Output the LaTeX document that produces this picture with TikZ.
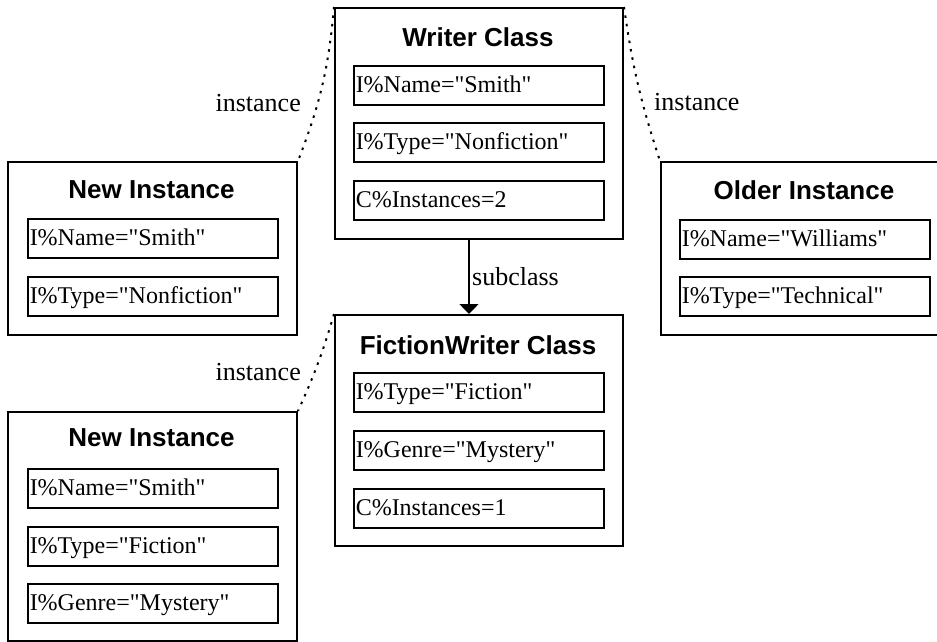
\documentclass[tikz,border=0pt]{standalone}
\usepackage{fontspec}
\setmainfont{Liberation Serif}[Ligatures=TeXOff]
\setsansfont{Liberation Sans}
\usetikzlibrary{arrows.meta}
\begin{document}
\begin{tikzpicture}[x=1pt,y=-1pt,
  outerbox/.style={draw, line width=2pt, anchor=north west, inner sep=0pt, minimum width=288pt},
  field/.style={draw, line width=1.5pt, anchor=north west, minimum height=39pt, text width=246pt,
    inner xsep=2pt, inner ysep=0pt, align=left, font=\fontsize{24}{28}\selectfont,
    execute at begin node={\rule[-5pt]{0pt}{25pt}}},
  titletext/.style={font=\sffamily\bfseries\fontsize{26}{30}\selectfont, inner sep=0pt},
  lbl/.style={font=\fontsize{26}{30}\selectfont, inner sep=0pt},
  instline/.style={line width=2pt, dash pattern=on 2.5pt off 6pt},
  subline/.style={line width=1.5pt, -{Triangle[width=19pt,length=10pt]}}
]
\useasboundingbox (0,0) rectangle (937,641);
\begin{scope}
\clip (0,0) rectangle (937,641);
% Writer Class
\node[outerbox, minimum height=231pt] (writer) at (334,7) {};
\node[titletext] (writerT) at (478,37) {Writer Class};
\node[field] (w1) at (353,65) {I\%Name="Smith"};
\node[field] (w2) at (353,122) {I\%Type="Nonfiction"};
\node[field] (w3) at (353,180) {C\%Instances=2};
% New Instance (top)
\node[outerbox, minimum width=289pt, minimum height=173pt] (newA) at (7,161) {};
\node[titletext] (newAT) at (151.5,190) {New Instance};
\node[field] (a1) at (27,218) {I\%Name="Smith"};
\node[field] (a2) at (27,276) {I\%Type="Nonfiction"};
% Older Instance
\node[outerbox, minimum height=173pt] (older) at (660,161) {};
\node[titletext] (olderT) at (804,190) {Older Instance};
\node[field] (o1) at (679,219) {I\%Name="Williams"};
\node[field] (o2) at (679,276) {I\%Type="Technical"};
% FictionWriter Class
\node[outerbox, minimum height=231pt] (fiction) at (334,314) {};
\node[titletext] (fictionT) at (478,345) {FictionWriter Class};
\node[field] (f1) at (353,372) {I\%Type="Fiction"};
\node[field] (f2) at (353,430) {I\%Genre="Mystery"};
\node[field] (f3) at (353,488) {C\%Instances=1};
% New Instance (bottom)
\node[outerbox, minimum width=289pt, minimum height=229pt] (newB) at (7,411) {};
\node[titletext] (newBT) at (151.5,438) {New Instance};
\node[field] (b1) at (27,468) {I\%Name="Smith"};
\node[field] (b2) at (27,526) {I\%Type="Fiction"};
\node[field] (b3) at (27,583) {I\%Genre="Mystery"};
\end{scope}
% connectors
\draw[instline] (writer.north west) to[bend left=8] (newA.north east);
\draw[instline] (writer.north east) to[bend right=5] (older.north west);
\draw[instline] (fiction.north west) to[bend left=4] (newB.north east);
\coordinate (subx) at (469,0);
\draw[subline] (writer.south west -| subx) -- (fiction.north west -| subx);
% labels
\node[lbl, anchor=base east] (l1) at (301,111) {instance};
\node[lbl, anchor=base west] (l2) at (654,110) {instance};
\node[lbl, anchor=base east] (l3) at (301,380) {instance};
\node[lbl, anchor=base west] (l4) at (472,285) {subclass};
\end{tikzpicture}
\end{document}
